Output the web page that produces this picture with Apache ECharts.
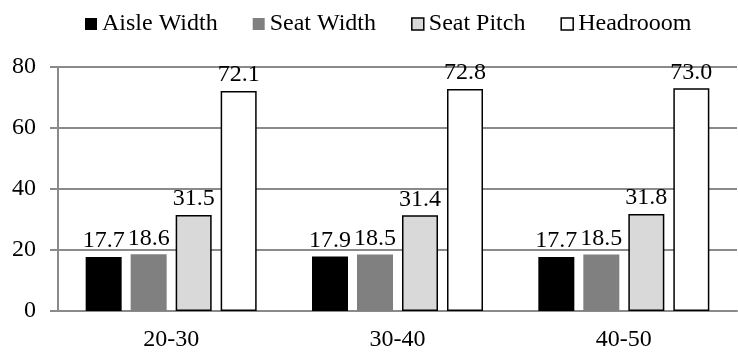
<!DOCTYPE html>
<html>
<head>
<meta charset="utf-8">
<script src="https://cdn.jsdelivr.net/npm/echarts@6/dist/echarts.min.js"></script>
<style>
  html, body { margin: 0; padding: 0; background: #fff; }
  #chart { width: 738px; height: 354px; }
</style>
</head>
<body>
<div id="chart"></div>
<script>
// Age groups on the x axis
const categories = ['20-30', '30-40', '40-50'];

// Measurements per age group
const aisleWidth = [17.7, 17.9, 17.7];
const seatWidth = [18.6, 18.5, 18.5];
const seatPitch = [31.5, 31.4, 31.8];
const headroom = [72.1, 72.8, 73.0];

// Y axis range
const yMin = 0;
const yMax = 80;
const yStep = 20;

const FONT = '"Liberation Serif", "Times New Roman", serif';
const GRID_GRAY = '#8a8a8a';

function barSeries(name, data, fill, border) {
  return {
    name: name,
    type: 'bar',
    data: data,
    barWidth: 36,
    barGap: '25%',
    itemStyle: {
      color: fill,
      borderColor: border || fill,
      borderWidth: border ? 1.5 : 0
    },
    label: {
      show: true,
      position: 'top',
      distance: 4,
      color: '#000',
      fontFamily: FONT,
      fontSize: 24,
      formatter: p => p.value.toFixed(1)
    }
  };
}

const chart = echarts.init(document.getElementById('chart'));
chart.setOption({
  animation: false,
  backgroundColor: '#fff',
  textStyle: { fontFamily: FONT },
  legend: {
    top: 7,
    left: 80,
    itemWidth: 12,
    itemHeight: 12,
    itemGap: 35,
    icon: 'rect',
    textStyle: { fontFamily: FONT, fontSize: 24, color: '#000' },
    data: [
      { name: 'Aisle Width' },
      { name: 'Seat Width' },
      { name: 'Seat Pitch', itemStyle: { borderColor: '#000', borderWidth: 1.5 } },
      { name: 'Headrooom', itemStyle: { borderColor: '#000', borderWidth: 1.5 } }
    ]
  },
  grid: { left: 58, right: 1, top: 67, bottom: 43 },
  xAxis: {
    type: 'category',
    data: categories,
    axisTick: { show: false },
    axisLine: { lineStyle: { color: GRID_GRAY, width: 2 } },
    axisLabel: { color: '#000', fontFamily: FONT, fontSize: 24, margin: 17 }
  },
  yAxis: {
    type: 'value',
    min: yMin,
    max: yMax,
    interval: yStep,
    axisLine: { show: true, lineStyle: { color: GRID_GRAY, width: 2 } },
    axisTick: { show: true, length: 8, lineStyle: { color: GRID_GRAY, width: 2 } },
    splitLine: { lineStyle: { color: GRID_GRAY, width: 2 } },
    axisLabel: { color: '#000', fontFamily: FONT, fontSize: 24, margin: 22 }
  },
  series: [
    barSeries('Aisle Width', aisleWidth, '#000000'),
    barSeries('Seat Width', seatWidth, '#808080'),
    barSeries('Seat Pitch', seatPitch, '#d9d9d9', '#000'),
    barSeries('Headrooom', headroom, '#ffffff', '#000')
  ]
});
</script>
</body>
</html>
